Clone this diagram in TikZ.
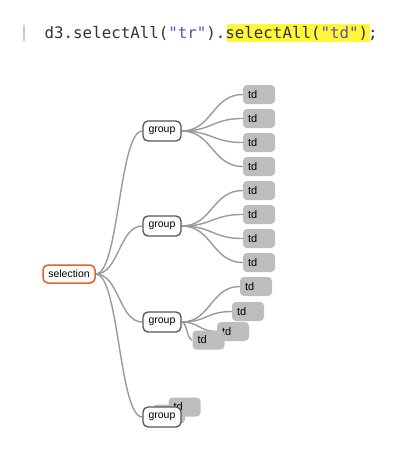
\documentclass[tikz,border=0pt]{standalone}
\usepackage{fontspec}
\setmainfont{Liberation Sans}
\newfontfamily\codefont{DejaVu Sans Mono}
\usetikzlibrary{calc}
\pgfdeclarelayer{bg}
\pgfdeclarelayer{paper}
\pgfsetlayers{paper,bg,main}
\definecolor{linkgray}{HTML}{9A9A9A}
\definecolor{tdgray}{HTML}{BDBDBD}
\definecolor{grpborder}{HTML}{555555}
\definecolor{selorange}{HTML}{E0612F}
\definecolor{codetext}{HTML}{333333}
\definecolor{codestr}{HTML}{5E52A3}
\definecolor{hilite}{HTML}{FFF73A}
\begin{document}
\begin{tikzpicture}[x=1pt,y=-1pt,
  tdbox/.style={fill=tdgray, rounded corners=4pt, minimum height=19pt, text width=22pt, inner xsep=5pt, inner ysep=0pt, align=left, font=\fontsize{11}{12}\selectfont, text=black},
  grpbox/.style={draw=grpborder, line width=1.3pt, fill=white, rounded corners=5pt, minimum width=38pt, minimum height=20pt, inner sep=0pt, font=\fontsize{10.5}{12}\selectfont},
  selbox/.style={draw=selorange, line width=1.5pt, fill=white, rounded corners=5pt, minimum width=52pt, minimum height=18pt, inner sep=0pt, font=\fontsize{10.5}{12}\selectfont},
  linkline/.style={draw=linkgray, line width=1.4pt},
  diag/.style={to path={let \p1=(\tikztostart), \p2=(\tikztotarget) in .. controls ({(\x1+\x2)/2},\y1) and ({(\x1+\x2)/2},\y2) .. (\tikztotarget)}}
]
\useasboundingbox (0,0) rectangle (416,455);
\begin{pgfonlayer}{paper}
\fill[white] (0,0) rectangle (416,455);
\end{pgfonlayer}
% code line
\fill[hilite] (227,24) rectangle (370,41.5);
\draw[draw=black!20, line width=1.2pt] (24,25) -- (24,41) coordinate (barend);
\node[anchor=base west, inner sep=0pt, font=\codefont\fontsize{15.8}{18}\selectfont, text=codetext] (code) at (44.5,38.5)
 {d3.selectAll(\textcolor{codestr}{"tr"}).selectAll(\textcolor{codestr}{"td"});};
% selection
\node[selbox] (sel) at (69,274) {selection};
% groups
\node[grpbox] (g1) at (162,131) {group};
\node[grpbox] (g2) at (162,226) {group};
\node[grpbox] (g3) at (162,322) {group};
% tds group 1 and 2
\foreach \i/\yy in {1/94.5,2/118.5,3/142.5,4/166.5,5/190.5,6/214.5,7/238.5,8/262.5}{
  \node[tdbox] (t\i) at (259,\yy) {td};
}
% tds group 3
\node[tdbox] (u1) at (256,286.5) {td};
\node[tdbox] (u2) at (248,311.5) {td};
\node[tdbox] (u3) at (233,331.5) {td};
\node[tdbox] (u4) at (208.5,340) {td};
% group 4 with tds behind
\node[tdbox] (v2) at (169,414) {td};
\node[tdbox] (v1) at (184.5,407) {\raisebox{-5pt}{td}};
\node[grpbox] (g4) at (162,417) {group};
% links
\begin{pgfonlayer}{bg}
\foreach \g in {g1,g2,g3,g4}{
  \draw[linkline] (sel.east) to[diag] (\g.west);
}
\foreach \i in {1,2,3,4}{
  \draw[linkline] (g1.east) to[diag] (t\i.west);
}
\foreach \i in {5,6,7,8}{
  \draw[linkline] (g2.east) to[diag] (t\i.west);
}
\foreach \i in {1,2,3,4}{
  \draw[linkline] (g3.east) to[diag] (u\i.west);
}
\end{pgfonlayer}
\end{tikzpicture}
\end{document}
